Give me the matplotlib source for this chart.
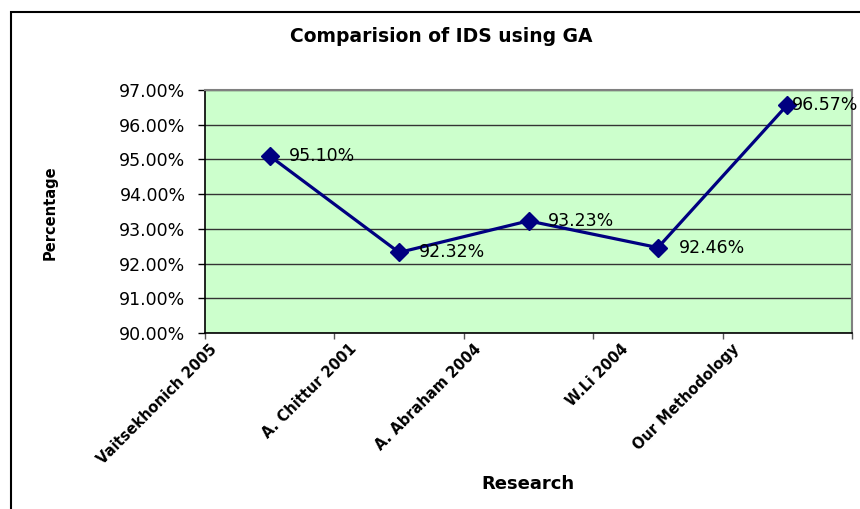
import matplotlib
matplotlib.use("Agg")
import matplotlib.pyplot as plt
from matplotlib.patches import Rectangle
from matplotlib.transforms import ScaledTranslation
from matplotlib.ticker import FuncFormatter, FixedLocator

plt.rcParams['font.family'] = ['DejaVu Sans']

# data
research = ['Vaitsekhonich 2005', 'A. Chittur 2001', 'A. Abraham 2004', 'W.Li 2004', 'Our Methodology']
accuracy = [95.10, 92.32, 93.23, 92.46, 96.57]
y_ticks = [90, 91, 92, 93, 94, 95, 96, 97]

# label offsets (points) to the right of each marker
label_dx = [14, 14, 14, 15, 3]

fig = plt.figure(figsize=(8.6, 5.09), dpi=100)
ax = fig.add_axes([205 / 860, 1 - 333 / 509, 647 / 860, 243 / 509])
ax.set_facecolor('#CCFFCC')

x = list(range(len(research)))
ax.plot(x, accuracy, color='#000080', lw=2.3, marker='D', ms=9.5,
        markerfacecolor='#000080', markeredgecolor='#000080', zorder=3, clip_on=False)

for xi, v, dx in zip(x, accuracy, label_dx):
    ax.annotate(f'{v:.2f}%', (xi, v), xytext=(dx, 0), textcoords='offset points',
                ha='left', va='center', fontsize=12.5, color='black', zorder=4,
                annotation_clip=False)

ax.set_xlim(-0.5, len(research) - 0.5)
ax.set_ylim(y_ticks[0], y_ticks[-1])
ax.set_yticks(y_ticks)
ax.yaxis.set_major_formatter(FuncFormatter(lambda v, p: f'{v:.2f}%'))
ax.tick_params(axis='y', labelsize=12.5, length=5, width=1, pad=9, color='black')
ax.grid(axis='y', color='#333333', lw=1)
ax.set_axisbelow(True)

# tick marks on category boundaries, labels at the centers
ax.xaxis.set_major_locator(FixedLocator([i - 0.5 for i in range(len(research) + 1)]))
ax.xaxis.set_major_formatter(FuncFormatter(lambda v, p: ''))
ax.xaxis.set_minor_locator(FixedLocator(x))
ax.set_xticklabels(research, minor=True, rotation=45, ha='right', va='top',
                   fontsize=10.5, fontweight='bold')
ax.tick_params(axis='x', which='major', length=4, width=1, color='#555555')
ax.tick_params(axis='x', which='minor', length=0, pad=6)

for side in ('left', 'bottom'):
    ax.spines[side].set_color('black')
    ax.spines[side].set_linewidth(1.2)
for side in ('top', 'right'):
    ax.spines[side].set_color('#808080')
    ax.spines[side].set_linewidth(1.5)

fig.text(441 / 860, 1 - 37 / 509, 'Comparision of IDS using GA', ha='center', va='center',
         fontsize=13.5, fontweight='bold')
fig.text(50 / 860, 1 - 213 / 509, 'Percentage', rotation=90, ha='center', va='center',
         fontsize=10.5, fontweight='bold')
fig.text(528 / 860, 1 - 484 / 509, 'Research', ha='center', va='center',
         fontsize=13, fontweight='bold')

# chart frame (cut off at right and bottom)
fig.patches.append(Rectangle((11 / 860, -0.1), 1.2, 1.1 - 12 / 509, transform=fig.transFigure,
                             fill=False, edgecolor='black', lw=1.5))

# shift the rotated labels left, like the spreadsheet does
fig.canvas.draw()
for lab in ax.get_xticklabels(minor=True):
    w = lab.get_window_extent().width
    lab.set_transform(lab.get_transform() + ScaledTranslation(-0.4 * w / fig.dpi, 0, fig.dpi_scale_trans))

fig.savefig('out.png', dpi=100)
